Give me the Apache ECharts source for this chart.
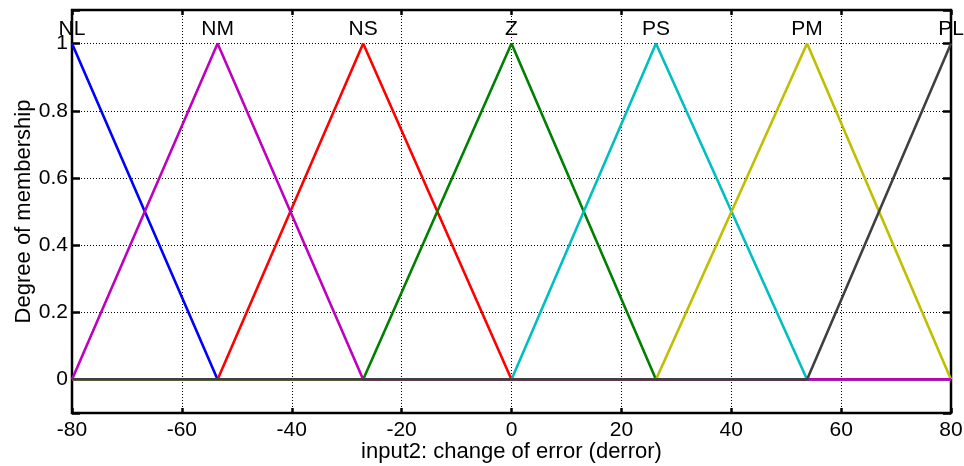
<!DOCTYPE html>
<html>
<head>
<meta charset="utf-8">
<script src="https://cdn.jsdelivr.net/npm/echarts@6/dist/echarts.min.js"></script>
<style>html,body{margin:0;padding:0;background:#fff}#c{width:964px;height:466px}</style>
</head>
<body>
<div id="c"></div>
<script>
// Membership function names and triangle vertices (x positions)
const mfNames = ['NL', 'NM', 'NS', 'Z', 'PS', 'PM', 'PL'];
const mfLeft  = [-106.7, -80, -53.5, -27, 0, 26.3, 53.8];
const mfPeak  = [-80, -53.5, -27, 0, 26.3, 53.8, 80];
const mfRight = [-53.5, -27, 0, 26.3, 53.8, 80, 106.7];
const mfColors = ['#0000ff', '#bf00bf', '#ff0000', '#008000', '#00bfbf', '#bfbf00', '#404040'];
const xTicks = [-80, -60, -40, -20, 0, 20, 40, 60, 80];
const yTicks = [0, 0.2, 0.4, 0.6, 0.8, 1];
const xMin = -80, xMax = 80;

function mfData(i) {
  const pts = [];
  if (mfLeft[i] > xMin) { pts.push([xMin, 0]); pts.push([mfLeft[i], 0]); }
  else {
    pts.push([xMin, (xMin - mfLeft[i]) / (mfPeak[i] - mfLeft[i])]);
  }
  if (mfPeak[i] >= xMin && mfPeak[i] <= xMax) pts.push([mfPeak[i], 1]);
  if (mfRight[i] < xMax) { pts.push([mfRight[i], 0]); pts.push([xMax, 0]); }
  else if (mfPeak[i] < xMax) {
    pts.push([xMax, (mfRight[i] - xMax) / (mfRight[i] - mfPeak[i])]);
  }
  return pts.filter((p, k) => k === 0 || p[0] !== pts[k - 1][0] || p[1] !== pts[k - 1][1]);
}

// draw order so the zero line looks like the reference
const drawOrder = [0, 2, 3, 4, 5, 1, 6];
const font = 'Liberation Sans, Arial, sans-serif';

const series = drawOrder.map(i => ({
  type: 'line',
  name: mfNames[i],
  data: mfData(i),
  symbol: 'none',
  lineStyle: { color: mfColors[i], width: 2.6 },
  animation: false,
  markPoint: {
    symbol: 'circle', symbolSize: 0,
    data: [{ coord: [mfPeak[i], 1], value: mfNames[i] }],
    label: { show: true, position: 'top', distance: 4, formatter: mfNames[i],
             color: '#000', fontSize: 21, fontFamily: font }
  }
}));

const tickStyle = { color: '#000', width: 2.5 };
const chart = echarts.init(document.getElementById('c'));
chart.setOption({
  backgroundColor: '#fff',
  animation: false,
  grid: { left: 72, right: 13, top: 10, bottom: 53, containLabel: false, outerBoundsMode: 'none',
          show: true, borderColor: '#000', borderWidth: 2.5, backgroundColor: 'transparent' },
  xAxis: [{
    type: 'value', min: xMin, max: xMax, interval: 20, position: 'bottom',
    name: 'input2: change of error (derror)', nameLocation: 'middle', nameGap: 28, nameMoveOverlap: false,
    nameTextStyle: { color: '#000', fontSize: 22, fontFamily: font },
    axisLine: { show: false, onZero: false },
    axisTick: { show: true, inside: true, length: 5, lineStyle: tickStyle },
    axisLabel: { color: '#000', fontSize: 21, fontFamily: font, margin: 7 },
    splitLine: { show: true, lineStyle: { color: '#000', width: 1, type: [1, 2] } }
  }, {
    type: 'value', min: xMin, max: xMax, interval: 20, position: 'top',
    axisLine: { show: false, onZero: false },
    axisTick: { show: true, inside: true, length: 5, lineStyle: tickStyle },
    axisLabel: { show: false }, splitLine: { show: false }
  }],
  yAxis: [{
    type: 'value', min: -0.1, max: 1.1, splitNumber: 6,
    name: 'Degree of membership', nameLocation: 'middle', nameGap: 37, nameMoveOverlap: false,
    nameTextStyle: { color: '#000', fontSize: 22, fontFamily: font },
    axisLine: { show: false, onZero: false },
    axisTick: { show: true, inside: true, length: 8, lineStyle: tickStyle },
    axisLabel: { color: '#000', fontSize: 21, fontFamily: font, margin: 4,
      formatter: v => { const m = yTicks.find(t => Math.abs(t - v) < 1e-6); return m === undefined ? '' : String(m); } },
    splitLine: { show: true, lineStyle: { color: '#000', width: 1, type: [1, 2] } }
  }, {
    type: 'value', min: -0.1, max: 1.1, splitNumber: 6, position: 'right',
    axisLine: { show: false, onZero: false },
    axisTick: { show: true, inside: true, length: 8, lineStyle: tickStyle },
    axisLabel: { show: false }, splitLine: { show: false }
  }],
  series: series
});
</script>
</body>
</html>
